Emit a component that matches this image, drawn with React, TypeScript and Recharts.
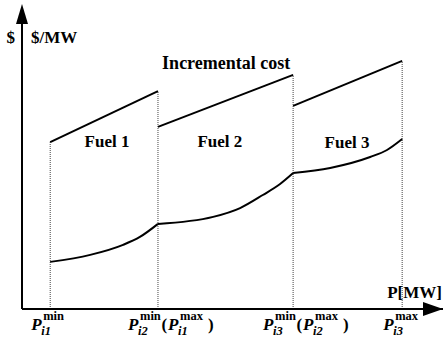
import React from 'react';
import {
    ComposedChart,
    Line,
    XAxis,
    YAxis,
    ReferenceLine,
    ReferenceDot,
} from 'recharts';

// segment boundaries on the P axis
const pBounds = [6.7, 32.3, 64.4, 90.3];

// incremental cost (straight segments), start / end value per fuel
const incStart = [54.9, 59.9, 66.8];
const incEnd = [71.7, 77.0, 81.6];

// lower curves per fuel
const fuel1P = [6.7, 16.2, 24.0, 28.0, 32.3];
const fuel1C = [15.5, 17.8, 21.1, 23.7, 28.0];
const fuel2P = [32.3, 45.4, 51.8, 57.2, 61.3, 64.4];
const fuel2C = [28.0, 30.3, 33.2, 37.5, 41.1, 44.7];
const fuel3P = [64.4, 73.2, 82.7, 86.7, 90.3];
const fuel3C = [44.7, 46.4, 50.0, 52.3, 55.9];

// tick labels
const tickSubs = ['i1', 'i2', 'i3', 'i3'];
const tickSups = ['min', 'min', 'min', 'max'];
const parenSubs = ['', 'i1', 'i2', ''];
const parenSups = ['', 'max', 'max', ''];

const fuelNames = ['Fuel 1', 'Fuel 2', 'Fuel 3'];

const FONT = "'Liberation Serif', 'Times New Roman', serif";
const bold = { fontFamily: FONT, fontWeight: 700 };

const incSegments = incStart.map((s, i) => [
    { p: pBounds[i], c: s },
    { p: pBounds[i + 1], c: incEnd[i] },
]);

const toRows = (ps: number[], cs: number[]) =>
    ps.map((p, i) => ({ p, c: cs[i] }));

const lowerCurves = [
    toRows(fuel1P, fuel1C),
    toRows(fuel2P, fuel2C),
    toRows(fuel3P, fuel3C),
];

// top of each dotted boundary = highest incremental cost at that P
const boundTops = pBounds.map((_, i) =>
    Math.max(i > 0 ? incEnd[i - 1] : 0, i < incStart.length ? incStart[i] : 0)
);

const PTerm = ({ x, y, sub, sup }: any) => (
    <g fill="#000">
        <text x={x} y={y} style={{ ...bold, fontSize: 17, fontStyle: 'italic' }}>
            P
        </text>
        <text x={x + 12} y={y - 10} style={{ ...bold, fontSize: 12.5 }}>
            {sup}
        </text>
        <text x={x + 10} y={y + 5} style={{ ...bold, fontSize: 12.5, fontStyle: 'italic' }}>
            {sub}
        </text>
    </g>
);

const PTick = (props: any) => {
    const { x, y, index } = props;
    const hasParen = parenSubs[index] !== '';
    const x0 = hasParen ? x - 30 : x - 19;
    const base = y + 21;
    return (
        <g>
            <PTerm x={x0} y={base} sub={tickSubs[index]} sup={tickSups[index]} />
            {hasParen && (
                <g>
                    <text x={x0 + 33.5} y={base} style={{ ...bold, fontSize: 17 }}>
                        (
                    </text>
                    <PTerm x={x0 + 40} y={base} sub={parenSubs[index]} sup={parenSups[index]} />
                    <text x={x0 + 80} y={base} style={{ ...bold, fontSize: 17 }}>
                        )
                    </text>
                </g>
            )}
        </g>
    );
};

const label =
    (text: string, anchor: string, dx = 0, size = 17) =>
    (props: any) => (
        <text
            x={props.cx + dx}
            y={props.cy}
            textAnchor={anchor}
            fill="#000"
            style={{ ...bold, fontSize: size }}
        >
            {text}
        </text>
    );

const xArrow = (props: any) => {
    const { cx, cy } = props;
    return <polygon points={`${cx},${cy} ${cx - 20},${cy - 7} ${cx - 20},${cy + 7}`} fill="#000" />;
};

const yArrow = (props: any) => {
    const { cx, cy } = props;
    return <polygon points={`${cx},${cy - 1} ${cx - 6},${cy + 19} ${cx + 6},${cy + 19}`} fill="#000" />;
};

const fuelLabelPos = [
    { p: 20.2, c: 53.3 },
    { p: 47.0, c: 53.3 },
    { p: 77.2, c: 53.0 },
];

export default function App() {
    return (
        <div style={{ position: 'absolute', left: 0, top: 0, width: 443, height: 340, background: '#fff' }}>
            <ComposedChart
                width={443}
                height={340}
                margin={{ top: 5, right: 0, bottom: 0, left: 22 }}
            >
                <XAxis
                    type="number"
                    dataKey="p"
                    domain={[0, 100]}
                    ticks={pBounds}
                    tick={<PTick />}
                    tickLine={false}
                    tickSize={0}
                    tickMargin={0}
                    interval={0}
                    height={31}
                    axisLine={{ stroke: '#000', strokeWidth: 2 }}
                    allowDataOverflow
                />
                <YAxis
                    type="number"
                    dataKey="c"
                    domain={[0, 100]}
                    width={0}
                    hide
                    allowDataOverflow
                />
                <ReferenceLine
                    segment={[
                        { x: 0, y: 0 },
                        { x: 0, y: 95 },
                    ]}
                    stroke="#000"
                    strokeWidth={2}
                    ifOverflow="visible"
                />
                {pBounds.map((p, i) => (
                    <ReferenceLine
                        key={`b${i}`}
                        segment={[
                            { x: p, y: 0 },
                            { x: p, y: boundTops[i] },
                        ]}
                        stroke="#444"
                        strokeWidth={1}
                        strokeDasharray="1 1"
                    />
                ))}
                {incSegments.map((seg, i) => (
                    <Line
                        key={`inc${i}`}
                        data={seg}
                        dataKey="c"
                        type="linear"
                        stroke="#000"
                        strokeWidth={2}
                        dot={false}
                        isAnimationActive={false}
                    />
                ))}
                {lowerCurves.map((rows, i) => (
                    <Line
                        key={`low${i}`}
                        data={rows}
                        dataKey="c"
                        type="monotone"
                        stroke="#000"
                        strokeWidth={2}
                        dot={false}
                        isAnimationActive={false}
                    />
                ))}
                {fuelNames.map((n, i) => (
                    <ReferenceDot
                        key={n}
                        x={fuelLabelPos[i].p}
                        y={fuelLabelPos[i].c}
                        r={0}
                        ifOverflow="visible"
                        shape={label(n, 'middle')}
                    />
                ))}
                <ReferenceDot x={48.5} y={78.9} r={0} ifOverflow="visible" shape={label('Incremental cost', 'middle', 0, 18)} />
                <ReferenceDot x={0} y={87.5} r={0} ifOverflow="visible" shape={label('$', 'end', -7)} />
                <ReferenceDot x={0} y={87.5} r={0} ifOverflow="visible" shape={label('$/MW', 'start', 9)} />
                <ReferenceDot x={100} y={3.6} r={0} ifOverflow="visible" shape={label('P[MW]', 'end', -1)} />
                <ReferenceDot x={100} y={0} r={0} ifOverflow="visible" shape={xArrow} />
                <ReferenceDot x={0} y={100} r={0} ifOverflow="visible" shape={yArrow} />
            </ComposedChart>
        </div>
    );
}
